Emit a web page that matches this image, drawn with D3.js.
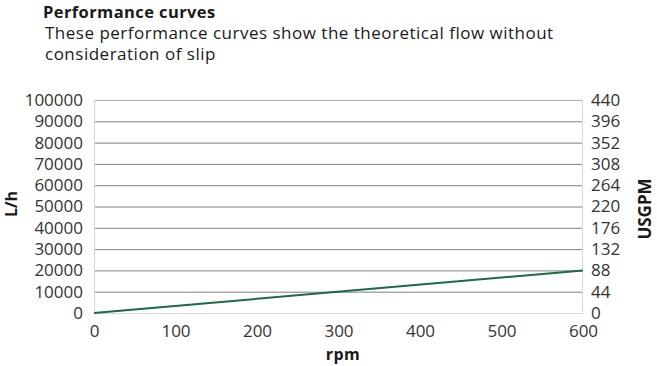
<!DOCTYPE html>
<html>
<head>
<meta charset="utf-8">
<script src="https://cdn.jsdelivr.net/npm/d3@7"></script>
<style>
  body { margin: 0; background: #fff; }
  svg { display: block; font-family: "Open Sans", sans-serif; }
</style>
</head>
<body>
<svg id="chart" width="657" height="366"></svg>
<script>
// data
const rpm = [0, 600];
const flowLh = [0, 20000];
const leftTicks = [0, 10000, 20000, 30000, 40000, 50000, 60000, 70000, 80000, 90000, 100000];
const rightTicks = [0, 44, 88, 132, 176, 220, 264, 308, 352, 396, 440];
const xTicks = [0, 100, 200, 300, 400, 500, 600];

const w = 657, h = 366;
const m = { left: 94, right: 583, top: 100, bottom: 313 };

const svg = d3.select('#chart');

// titles
svg.append('text')
   .attr('x', 43).attr('y', 18)
   .attr('font-size', '16.5px').attr('font-weight', 'bold').attr('fill', '#1a1a1a')
   .attr('letter-spacing', '0.4px')
   .text('Performance curves');
svg.append('text')
   .attr('x', 45).attr('y', 39)
   .attr('font-size', '17px').attr('fill', '#1a1a1a')
   .attr('letter-spacing', '0.5px')
   .text('These performance curves show the theoretical flow without');
svg.append('text')
   .attr('x', 45).attr('y', 60)
   .attr('font-size', '17px').attr('fill', '#1a1a1a')
   .attr('letter-spacing', '0.5px')
   .text('consideration of slip');

// scales
const x = d3.scaleLinear().domain([0, 600]).range([m.left, m.right]);
const yL = d3.scaleLinear().domain([0, 100000]).range([m.bottom, m.top]);
const yR = d3.scaleLinear().domain([0, 440]).range([m.bottom, m.top]);

// gridlines
svg.append('g')
   .selectAll('line')
   .data(leftTicks.filter(d => d > 0))
   .enter()
   .append('line')
   .attr('x1', m.left).attr('x2', m.right)
   .attr('y1', d => yL(d) + 0.5).attr('y2', d => yL(d) + 0.5)
   .attr('stroke', d => d === 100000 ? '#b0b0b0' : '#7f7f7f')
   .attr('stroke-width', 1);

// axes frame (light)
const frame = svg.append('g').attr('stroke', '#d9d9d9').attr('stroke-width', 1);
frame.append('line').attr('x1', m.left + 0.5).attr('x2', m.left + 0.5).attr('y1', m.top).attr('y2', m.bottom);
frame.append('line').attr('x1', m.right - 0.5).attr('x2', m.right - 0.5).attr('y1', m.top).attr('y2', m.bottom);
frame.append('line').attr('x1', m.left).attr('x2', m.right).attr('y1', m.bottom + 0.5).attr('y2', m.bottom + 0.5);

// left axis
const leftAxis = svg.append('g')
   .attr('transform', `translate(${m.left},0)`)
   .call(d3.axisLeft(yL).tickValues(leftTicks).tickSize(0).tickPadding(11).tickFormat(d3.format('d')));
// right axis
const rightAxis = svg.append('g')
   .attr('transform', `translate(${m.right},0)`)
   .call(d3.axisRight(yR).tickValues(rightTicks).tickSize(0).tickPadding(8).tickFormat(d3.format('d')));
// bottom axis
const bottomAxis = svg.append('g')
   .attr('transform', `translate(0,${m.bottom})`)
   .call(d3.axisBottom(x).tickValues(xTicks).tickSize(0).tickPadding(12).tickFormat(d3.format('d')));

[leftAxis, rightAxis, bottomAxis].forEach(a => {
  a.select('.domain').remove();
  a.selectAll('text')
   .attr('font-size', '17px')
   .attr('fill', '#333')
   .attr('font-family', '"Open Sans", sans-serif');
});

// line
const line = d3.line()
   .x((d, i) => x(rpm[i]))
   .y(d => yL(d));
svg.append('path')
   .datum(flowLh)
   .attr('d', line)
   .attr('fill', 'none')
   .attr('stroke', '#1b6b45')
   .attr('stroke-width', 2);

// axis titles
svg.append('text')
   .attr('transform', `translate(17,204) rotate(-90)`)
   .attr('text-anchor', 'middle')
   .attr('font-size', '16px').attr('font-weight', 'bold').attr('fill', '#1a1a1a')
   .text('L/h');
svg.append('text')
   .attr('transform', `translate(651,209) rotate(-90)`)
   .attr('text-anchor', 'middle')
   .attr('font-size', '17px').attr('font-weight', 'bold').attr('fill', '#1a1a1a')
   .text('USGPM');
svg.append('text')
   .attr('x', 343).attr('y', 360)
   .attr('text-anchor', 'middle')
   .attr('font-size', '16px').attr('font-weight', 'bold').attr('fill', '#1a1a1a')
   .attr('letter-spacing', '0.5px')
   .text('rpm');
</script>
</body>
</html>
